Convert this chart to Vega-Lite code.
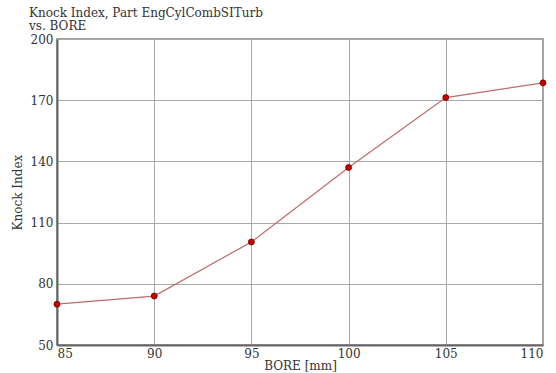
{
  "$schema": "https://vega.github.io/schema/vega-lite/v6.json",
  "width": 486,
  "height": 306,
  "autosize": {"type": "none"},
  "padding": {"left": 57, "top": 39, "right": 13, "bottom": 28},
  "background": "white",
  "config": {
    "font": "DejaVu Serif",
    "view": {"stroke": "#808080", "strokeWidth": 1.5},
    "axis": {
      "labelFont": "DejaVu Serif",
      "titleFont": "DejaVu Serif",
      "labelFontSize": 12,
      "titleFontSize": 12,
      "labelColor": "#333333",
      "titleColor": "#333333",
      "titleFontWeight": "normal",
      "gridColor": "#a8a8a8",
      "gridOpacity": 1,
      "gridWidth": 1,
      "domainColor": "#666666",
      "domainWidth": 2,
      "ticks": false
    }
  },
  "title": {
    "text": ["Knock Index, Part EngCylCombSITurb", "vs. BORE"],
    "anchor": "start",
    "frame": "group",
    "font": "DejaVu Serif",
    "fontSize": 12,
    "fontWeight": "normal",
    "color": "#333333",
    "dx": -28,
    "offset": 0,
    "lineHeight": 13
  },
  "data": {
    "values": [
      {"bore": 85, "knock": 70},
      {"bore": 90, "knock": 74},
      {"bore": 95, "knock": 100.5},
      {"bore": 100, "knock": 137},
      {"bore": 105, "knock": 171.3},
      {"bore": 110, "knock": 178.5}
    ]
  },
  "encoding": {
    "x": {
      "field": "bore",
      "type": "quantitative",
      "scale": {"domain": [85, 110], "nice": false, "zero": false},
      "axis": {"values": [85, 90, 95, 100, 105, 110], "title": "BORE [mm]", "titlePadding": 1, "labelPadding": 3}
    },
    "y": {
      "field": "knock",
      "type": "quantitative",
      "scale": {"domain": [50, 200], "nice": false, "zero": false},
      "axis": {"values": [50, 80, 110, 140, 170, 200], "title": "Knock Index", "titlePadding": 6, "labelPadding": 4}
    }
  },
  "layer": [
    {"mark": {"type": "line", "color": "#c06a6a", "strokeWidth": 1.2}},
    {"mark": {"type": "point", "filled": true, "fill": "#cc0000", "stroke": "#660000", "strokeWidth": 0.8, "opacity": 1, "size": 36}}
  ]
}
